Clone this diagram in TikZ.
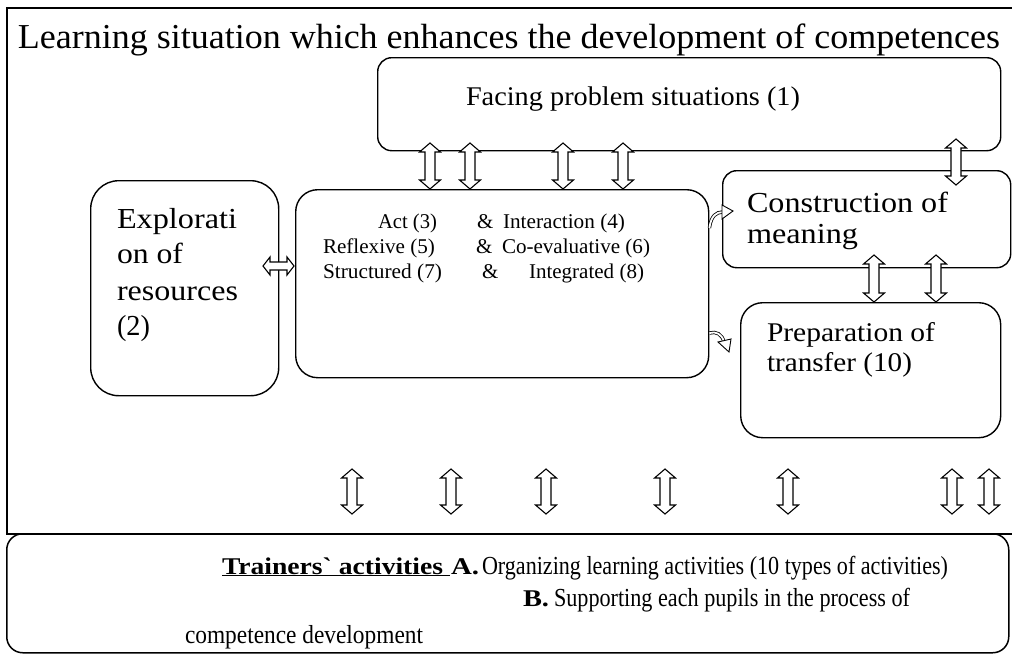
\documentclass[tikz,border=0pt]{standalone}
\usepackage{fontspec}
\setmainfont{Liberation Serif}
\usepackage{graphicx}
\newcommand{\fw}[2]{\resizebox{#1pt}{\height}{#2}}
\newcommand{\fs}[1]{\fontsize{#1pt}{#1pt}\selectfont}
% vertical hollow double arrow: x, ytop, ybottom
\newcommand{\varrow}[3]{\draw[blk] (#1,#2) -- (#1+10.5,#2+9) -- (#1+5,#2+9) -- (#1+5,#3-9) -- (#1+10.5,#3-9) -- (#1,#3) -- (#1-10.5,#3-9) -- (#1-5,#3-9) -- (#1-5,#2+9) -- (#1-10.5,#2+9) -- cycle;}
% horizontal hollow double arrow: xleft, xright, y
\newcommand{\harrow}[3]{\draw[blk] (#1,#3) -- (#1+7,#3-9) -- (#1+7,#3-4) -- (#2-7,#3-4) -- (#2-7,#3-9) -- (#2,#3) -- (#2-7,#3+9) -- (#2-7,#3+4) -- (#1+7,#3+4) -- (#1+7,#3+9) -- cycle;}
\tikzset{
  box/.style={draw, line width=1.4pt, rounded corners=#1, inner sep=0pt, anchor=north west},
  box/.default=15pt,
  blk/.style={draw, fill=white, line width=1.1pt, line join=miter},
  txt/.style={anchor=base west, inner sep=0pt, outer sep=0pt},
  curv/.style={double, double distance=1.8pt, line width=0.8pt},
}
\begin{document}
\begin{tikzpicture}[x=1pt,y=-1pt]
\useasboundingbox (0,0) rectangle (1012,654);
\fill[white] (0,0) rectangle (1012,654);

% outer frame
\node[draw, line width=1.5pt, inner sep=0pt, anchor=north west, minimum width=1008pt, minimum height=526pt] (frame) at (6,7) {};
% bottom box
\node[box=16pt, line width=1.5pt, minimum width=1002pt, minimum height=119pt] (train) at (6,533) {};

% boxes
\node[box=14pt, minimum width=623pt, minimum height=93pt] (facing) at (377,57) {};
\node[box=22pt, minimum width=413pt, minimum height=188pt] (central) at (295,189) {};
\node[box=28pt, minimum width=188pt, minimum height=215pt] (explo) at (90,180) {};
\node[box=14pt, minimum width=288pt, minimum height=97pt] (constr) at (722,170) {};
\node[box=22pt, minimum width=260pt, minimum height=135pt] (prep) at (740,302) {};

% title
\node[txt, font=\fs{35}] (title) at (18,48) {\fw{982}{Learning situation which enhances the development of competences}};
\node[txt, font=\fs{27}] (facingt) at (466,105) {\fw{334}{Facing problem situations (\oldstylenums{1})}};

% exploration text
\node[txt, font=\fs{29}] (ex1) at (117,228) {\fw{120}{Explorati}};
\node[txt, font=\fs{29}] (ex2) at (117,263) {\fw{66}{on of}};
\node[txt, font=\fs{29}] (ex3) at (117,300) {\fw{121}{resources}};
\node[txt, font=\fs{29}] (ex4) at (117,335) {\fw{33}{(\oldstylenums{2})}};

% central text
\node[txt, font=\fs{21}] (c1a) at (378,228) {\fw{59}{Act (3)}};
\node[txt, font=\fs{21}] (c1b) at (477,228) {\&};
\node[txt, font=\fs{21}] (c1c) at (503,228) {\fw{122}{Interaction (4)}};
\node[txt, font=\fs{21}] (c2a) at (323,253) {\fw{112}{Reflexive (5)}};
\node[txt, font=\fs{21}] (c2b) at (476,253) {\&};
\node[txt, font=\fs{21}] (c2c) at (502,253) {\fw{148}{Co-evaluative (6)}};
\node[txt, font=\fs{21}] (c3a) at (323,278) {\fw{119}{Structured (7)}};
\node[txt, font=\fs{21}] (c3b) at (482,278) {\&};
\node[txt, font=\fs{21}] (c3c) at (529,278) {\fw{115}{Integrated (8)}};

% construction / preparation text
\node[txt, font=\fs{29}] (co1) at (747,212) {\fw{201}{Construction of}};
\node[txt, font=\fs{29}] (co2) at (747,243) {\fw{111}{meaning}};
\node[txt, font=\fs{27}] (pr1) at (767,341) {\fw{168}{Preparation of}};
\node[txt, font=\fs{27}] (pr2) at (767,371) {\fw{145}{transfer (\oldstylenums{10})}};

% bottom text
\node[txt, font=\fs{24}\bfseries] (tr1) at (222,574) {\fw{228}{\underline{Trainers\textasciigrave\ activities\ }}};
\node[txt, font=\fs{24}\bfseries] (tr2) at (451,574) {\fw{28}{A.}};
\node[txt, font=\fs{26}] (tr3) at (482,574) {\fw{466}{Organizing learning activities (10 types of activities)}};
\node[txt, font=\fs{24}\bfseries] (tr4) at (523,606) {\fw{26}{B.}};
\node[txt, font=\fs{26}] (tr5) at (554,606) {\fw{356}{Supporting each pupils in the process of}};
\node[txt, font=\fs{26}] (tr6) at (185,643) {\fw{238}{competence development}};

% top double arrows between facing and central
\varrow{430}{143}{189}
\varrow{470}{143}{189}
\varrow{563}{143}{189}
\varrow{623}{143}{189}
% facing to construction
\varrow{956}{139}{185}
% construction to preparation
\varrow{874}{255}{302}
\varrow{936}{255}{302}
% exploration <-> central
\harrow{263}{294}{266}

% curved arrows from central
\draw[curv] (central.east |- 0,228) .. controls (711,216) and (716,212) .. (723,212);
\draw[blk, line width=0.9pt] (722,205) -- (733,211) -- (722,219) -- cycle;
\draw[curv] (central.east |- 0,333) .. controls (716,331) and (722,334) .. (724,342);
\draw[blk, line width=0.9pt] (718,342) -- (731,339) -- (729,352) -- cycle;

% bottom double arrows
\varrow{352}{469}{514}
\varrow{451}{469}{514}
\varrow{546}{469}{514}
\varrow{665}{469}{514}
\varrow{788}{469}{514}
\varrow{952}{469}{514}
\varrow{989}{469}{514}
\end{tikzpicture}
\end{document}
